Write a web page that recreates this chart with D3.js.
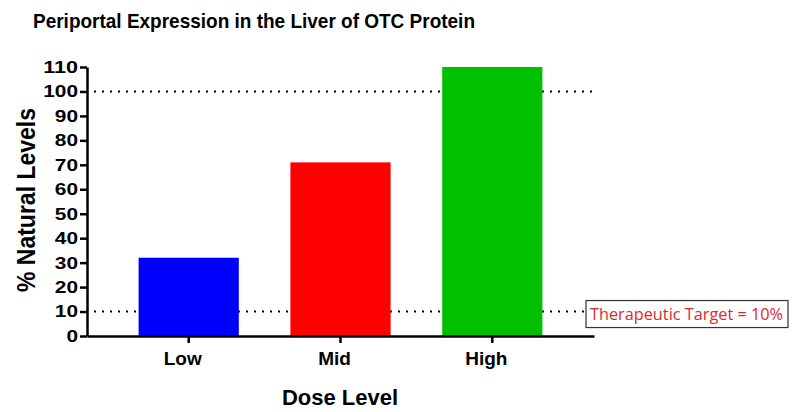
<!DOCTYPE html>
<html>
<head>
<meta charset="utf-8">
<script src="https://cdn.jsdelivr.net/npm/d3@7"></script>
<style>
  body { margin: 0; background: #fff; }
  svg { display: block; font-family: "Liberation Sans", Arial, sans-serif; }
</style>
</head>
<body>
<svg id="chart" width="801" height="412"></svg>
<script>
var categories = ["Low", "Mid", "High"];
var values = [32, 71, 110];
var barColors = ["#0000ff", "#ff0000", "#00c000"];
var yTicks = [0, 10, 20, 30, 40, 50, 60, 70, 80, 90, 100, 110];
var refLines = [100, 10];

var svg = d3.select("#chart"),
    margin = {top: 67, right: 207, bottom: 76, left: 87},
    width = 801 - margin.left - margin.right,
    height = 412 - margin.top - margin.bottom;

var x = d3.scaleBand()
    .domain(categories)
    .range([0, width])
    .paddingInner(0.34)
    .paddingOuter(0.34);

var y = d3.scaleLinear()
    .domain([0, 110])
    .range([height, 0]);

var g = svg.append("g")
    .attr("transform", "translate(" + margin.left + "," + margin.top + ")");

// dotted reference lines
g.selectAll(".ref")
    .data(refLines)
    .join("line")
    .attr("class", "ref")
    .attr("x1", 7)
    .attr("x2", width)
    .attr("y1", d => y(d))
    .attr("y2", d => y(d))
    .attr("stroke", "#000")
    .attr("stroke-width", 2)
    .attr("stroke-dasharray", "2,6");

// bars
g.selectAll(".bar")
    .data(values)
    .join("rect")
    .attr("class", "bar")
    .attr("x", (d, i) => x(categories[i]))
    .attr("y", d => y(d))
    .attr("width", x.bandwidth())
    .attr("height", d => height - y(d))
    .attr("fill", (d, i) => barColors[i]);

// y axis
var yAxis = g.append("g")
    .call(d3.axisLeft(y).tickValues(yTicks).tickSize(7).tickSizeOuter(0));
yAxis.select(".domain").attr("stroke-width", 2.5);
yAxis.selectAll(".tick line").attr("stroke-width", 2.5);
yAxis.selectAll(".tick text")
    .attr("x", -9)
    .style("font-size", "17px")
    .style("font-weight", "bold")
    .attr("textLength", d => String(d).length * 11.6)
    .attr("lengthAdjust", "spacingAndGlyphs")
    .attr("fill", "#000");

// x axis
var xAxis = g.append("g")
    .attr("transform", "translate(0," + height + ")")
    .call(d3.axisBottom(x).tickSize(7).tickSizeOuter(0));
xAxis.select(".domain").attr("stroke-width", 2.5);
xAxis.selectAll(".tick line").attr("stroke-width", 2.5);
xAxis.selectAll(".tick text")
    .attr("x", -6)
    .attr("y", 28.5)
    .attr("dy", null)
    .style("font-size", "19px")
    .style("font-weight", "bold")
    .attr("fill", "#000");

// title
svg.append("text")
    .attr("x", 33)
    .attr("y", 28)
    .style("font-size", "21px")
    .style("font-weight", "bold")
    .attr("textLength", 442)
    .attr("lengthAdjust", "spacingAndGlyphs")
    .text("Periportal Expression in the Liver of OTC Protein");

// y title
svg.append("text")
    .attr("transform", "translate(35,200) rotate(-90)")
    .style("text-anchor", "middle")
    .style("font-size", "25px")
    .style("font-weight", "bold")
    .attr("textLength", 184)
    .attr("lengthAdjust", "spacingAndGlyphs")
    .text("%  Natural  Levels");

// x title
svg.append("text")
    .attr("x", 340)
    .attr("y", 405)
    .style("text-anchor", "middle")
    .style("font-size", "22px")
    .style("font-weight", "bold")
    .text("Dose Level");

// annotation
var note = svg.append("g")
    .attr("transform", "translate(" + (margin.left + width - 8) + "," + (margin.top + y(10)) + ")");
note.append("rect")
    .attr("x", 0)
    .attr("y", -11)
    .attr("width", 202)
    .attr("height", 27)
    .attr("fill", "#fff")
    .attr("stroke", "#333")
    .attr("stroke-width", 1.2);
note.append("text")
    .attr("x", 4)
    .attr("y", 8)
    .style("font-family", "'Liberation Sans Narrow', 'Open Sans', sans-serif")
    .style("font-size", "16px")
    .attr("textLength", 193)
    .attr("lengthAdjust", "spacingAndGlyphs")
    .attr("fill", "#e0282e")
    .text("Therapeutic Target = 10%");
</script>
</body>
</html>
